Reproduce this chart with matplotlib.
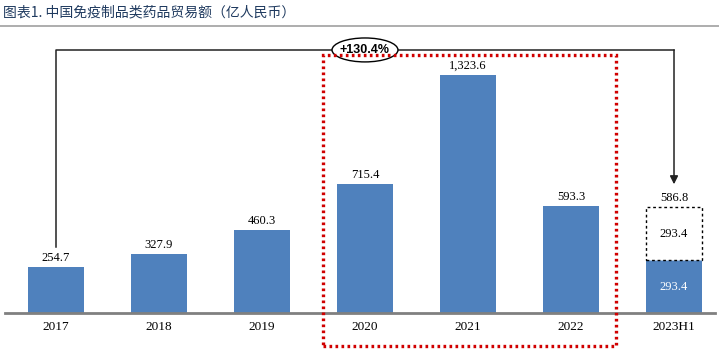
import matplotlib.pyplot as plt
from matplotlib.patches import Rectangle, Ellipse
import numpy as np

# Data
years = ['2017', '2018', '2019', '2020', '2021', '2022', '2023H1']
values = [254.7, 327.9, 460.3, 715.4, 1323.6, 593.3, 293.4]
h1_total = 586.8
h1_extra = 293.4
growth_label = '+130.4%'
title = '图表1. 中国免疫制品类药品贸易额（亿人民币）'

bar_color = '#4F81BD'
serif = ['Liberation Serif', 'DejaVu Serif']

fig = plt.figure(figsize=(7.19, 3.57), dpi=100)
ax = fig.add_axes([5/719, 44/357, 710/719, 278/357])

x = np.arange(len(years))
bars = ax.bar(x, values, width=0.55, color=bar_color, zorder=2)

# dashed "second half" box on top of 2023H1
ax.bar(x[-1], h1_extra, width=0.55, bottom=values[-1], facecolor='white',
       edgecolor='black', linestyle=(0, (2, 2)), linewidth=1.0, zorder=2)

# value labels
for i, v in enumerate(values[:-1]):
    ax.text(x[i], v + 18, f'{v:,.1f}', ha='center', va='bottom',
            fontsize=9, family=serif)
ax.text(x[-1], h1_total + 18, f'{h1_total:,.1f}', ha='center', va='bottom',
        fontsize=9, family=serif)
ax.text(x[-1], values[-1] / 2, f'{values[-1]:,.1f}', ha='center', va='center',
        fontsize=9, family=serif, color='white')
ax.text(x[-1], values[-1] + h1_extra / 2, f'{h1_extra:,.1f}', ha='center',
        va='center', fontsize=9, family=serif)

ax.set_xlim(-0.495, 6.398)
ax.set_ylim(0, 1544)
ax.set_xticks(x)
ax.set_xticklabels(years, family=serif, fontsize=9.5)
ax.tick_params(axis='x', length=0, pad=6)
ax.set_yticks([])
for s in ['left', 'right', 'top']:
    ax.spines[s].set_visible(False)
ax.spines['bottom'].set_color('#808080')
ax.spines['bottom'].set_linewidth(2)

# growth connector
line_y = 1461
ax.plot([x[0], x[0], x[-1]], [367, line_y, line_y], color='#222222', lw=1.1,
        zorder=3, clip_on=False)
ax.annotate('', xy=(x[-1], 715), xytext=(x[-1], line_y),
            arrowprops=dict(arrowstyle='-|>', color='#222222', lw=1.1,
                            mutation_scale=12, shrinkA=0, shrinkB=0))
ax.add_patch(Ellipse((3.0, line_y), 0.64, 133, facecolor='white',
                     edgecolor='black', lw=1.0, zorder=4, clip_on=False))
ax.text(3.0, line_y, growth_label, ha='center', va='center', fontsize=9,
        fontweight='bold', zorder=5, family=['Liberation Sans', 'DejaVu Sans'])

# red dotted frame around 2020-2022
ax.add_patch(Rectangle((2.59, -183), 2.85, 1616, fill=False, edgecolor='#D00000',
                       linestyle=(0, (0.8, 1.0)), linewidth=2.4, zorder=4,
                       clip_on=False))

# title and rule
fig.text(3/719, 1 - 12/357, title, fontsize=10, color='#1F3A5F', va='center',
         ha='left', family=['Noto Sans CJK SC', 'DejaVu Sans'])
fig.add_artist(plt.Line2D([0, 1], [1 - 26/357, 1 - 26/357], color='#A0A0A0',
                          lw=1.2))

fig.savefig('out.png', dpi=100)
